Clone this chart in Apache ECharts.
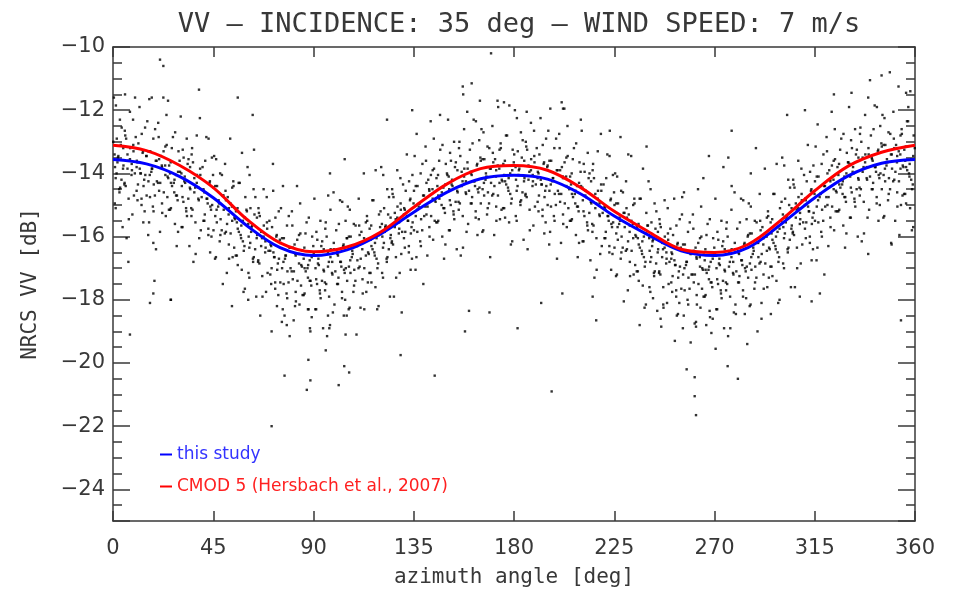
<!DOCTYPE html>
<html>
<head>
<meta charset="utf-8">
<script src="https://cdn.jsdelivr.net/npm/echarts@6/dist/echarts.min.js"></script>
<style>
html,body{margin:0;padding:0;background:#fff;}
#chart{width:962px;height:600px;}
</style>
</head>
<body>
<div id="chart"></div>
<script>
// ---- data ----
const titleText = 'VV – INCIDENCE: 35 deg – WIND SPEED: 7 m/s';
const xName = 'azimuth angle [deg]';
const yName = 'NRCS VV [dB]';
const azimuthTicks = [0, 45, 90, 135, 180, 225, 270, 315, 360];
const nrcsTicks = [-24, -22, -20, -18, -16, -14, -12, -10];

const curveAz = [0,15,30,45,60,75,90,105,120,135,150,165,180,195,210,225,240,255,270,285,300,315,330,345,360];
const thisStudy = [-13.56,-13.70,-14.10,-14.77,-15.65,-16.35,-16.60,-16.42,-15.92,-15.23,-14.59,-14.17,-14.06,-14.18,-14.65,-15.35,-15.94,-16.45,-16.60,-16.35,-15.60,-14.77,-14.08,-13.68,-13.56];
const cmod5 = [-13.11,-13.28,-13.75,-14.45,-15.45,-16.20,-16.48,-16.33,-15.86,-15.07,-14.33,-13.85,-13.75,-13.90,-14.45,-15.20,-15.83,-16.40,-16.50,-16.25,-15.47,-14.55,-13.77,-13.33,-13.11];

const obsPoints = [
[0.4,-11.6],[3.1,-12.3],[1.7,-12.9],[4.6,-13.2],[2.2,-13.5],[0.9,-13.8],[3.8,-14.2],[2.9,-14.6],[1.2,-15.1],[4.3,-15.7],
[7.6,-12.05],[5.3,-12.65],[9.1,-13.1],[6.5,-13.4],[8.4,-13.7],[9.8,-14.0],[5.7,-14.4],[7.0,-14.8],[8.7,-15.3],[6.1,-16.05],
[11.9,-11.9],[14.4,-12.55],[10.2,-12.85],[13.3,-13.35],[11.0,-13.65],[12.5,-14.0],[14.0,-14.2],[10.6,-14.55],[12.8,-15.0],[13.6,-15.55],
[15.4,-12.35],[18.1,-12.9],[16.7,-13.3],[19.6,-13.6],[17.2,-13.95],[15.9,-14.25],[18.8,-14.7],[17.9,-15.05],[16.2,-15.55],[19.3,-16.4],
[22.6,-11.6],[20.3,-12.4],[24.1,-13.1],[21.5,-13.45],[23.4,-13.75],[24.8,-14.15],[20.7,-14.55],[22.0,-14.95],[23.7,-15.35],[21.1,-15.85],
[26.9,-12.85],[29.4,-13.3],[25.2,-13.75],[28.3,-14.05],[26.0,-14.3],[27.5,-14.6],[29.0,-14.85],[25.6,-15.15],[27.8,-15.6],[28.6,-16.3],
[30.4,-12.2],[33.1,-12.9],[31.7,-13.5],[34.6,-13.8],[32.2,-14.1],[30.9,-14.4],[33.8,-14.8],[32.9,-15.2],[31.2,-15.7],[34.3,-16.3],
[37.6,-12.8],[35.3,-13.4],[39.1,-13.85],[36.5,-14.15],[38.4,-14.45],[39.8,-14.75],[35.7,-15.15],[37.0,-15.55],[38.7,-16.05],[36.1,-16.8],
[41.9,-12.85],[44.4,-13.5],[40.2,-13.8],[43.3,-14.3],[41.0,-14.6],[42.5,-14.95],[44.0,-15.15],[40.6,-15.5],[42.8,-15.95],[43.6,-16.5],
[45.4,-13.45],[48.1,-14.0],[46.7,-14.4],[49.6,-14.7],[47.2,-15.05],[45.9,-15.35],[48.8,-15.8],[47.9,-16.15],[46.2,-16.65],[49.3,-17.5],
[52.6,-12.9],[50.3,-13.7],[54.1,-14.4],[51.5,-14.75],[53.4,-15.05],[54.8,-15.45],[50.7,-15.85],[52.0,-16.25],[53.7,-16.65],[51.1,-17.15],
[56.9,-14.3],[59.4,-14.75],[55.2,-15.2],[58.3,-15.5],[56.0,-15.75],[57.5,-16.05],[59.0,-16.3],[55.6,-16.6],[57.8,-17.05],[58.6,-17.75],
[60.4,-13.8],[63.1,-14.5],[61.7,-15.1],[64.6,-15.4],[62.2,-15.7],[60.9,-16.0],[63.8,-16.4],[62.9,-16.8],[61.2,-17.3],[64.3,-17.9],
[67.6,-14.5],[65.3,-15.1],[69.1,-15.55],[66.5,-15.85],[68.4,-16.15],[69.8,-16.45],[65.7,-16.85],[67.0,-17.25],[68.7,-17.75],[66.1,-18.5],
[71.9,-14.55],[74.4,-15.2],[70.2,-15.5],[73.3,-16.0],[71.0,-16.3],[72.5,-16.65],[74.0,-16.85],[70.6,-17.2],[72.8,-17.65],[73.6,-18.2],
[75.4,-15.1],[78.1,-15.65],[76.7,-16.05],[79.6,-16.35],[77.2,-16.7],[75.9,-17.0],[78.8,-17.45],[77.9,-17.8],[76.2,-18.3],[79.3,-19.15],
[82.6,-14.4],[80.3,-15.2],[84.1,-15.9],[81.5,-16.25],[83.4,-16.55],[84.8,-16.95],[80.7,-17.35],[82.0,-17.75],[83.7,-18.15],[81.1,-18.65],
[86.9,-15.55],[89.4,-16.0],[85.2,-16.45],[88.3,-16.75],[86.0,-17.0],[87.5,-17.3],[89.0,-17.55],[85.6,-17.85],[87.8,-18.3],[88.6,-19.0],
[90.4,-14.8],[93.1,-15.5],[91.7,-16.1],[94.6,-16.4],[92.2,-16.7],[90.9,-17.0],[93.8,-17.4],[92.9,-17.8],[91.2,-18.3],[94.3,-18.9],
[97.6,-15.15],[95.3,-15.75],[99.1,-16.2],[96.5,-16.5],[98.4,-16.8],[99.8,-17.1],[95.7,-17.5],[97.0,-17.9],[98.7,-18.4],[96.1,-19.15],
[101.9,-14.85],[104.4,-15.5],[100.2,-15.8],[103.3,-16.3],[101.0,-16.6],[102.5,-16.95],[104.0,-17.15],[100.6,-17.5],[102.8,-17.95],[103.6,-18.5],
[105.4,-15.05],[108.1,-15.6],[106.7,-16.0],[109.6,-16.3],[107.2,-16.65],[105.9,-16.95],[108.8,-17.4],[107.9,-17.75],[106.2,-18.25],[109.3,-19.1],
[112.6,-14.0],[110.3,-14.8],[114.1,-15.5],[111.5,-15.85],[113.4,-16.15],[114.8,-16.55],[110.7,-16.95],[112.0,-17.35],[113.7,-17.75],[111.1,-18.25],
[116.9,-14.85],[119.4,-15.3],[115.2,-15.75],[118.3,-16.05],[116.0,-16.3],[117.5,-16.6],[119.0,-16.85],[115.6,-17.15],[117.8,-17.6],[118.6,-18.3],
[120.4,-13.8],[123.1,-14.5],[121.7,-15.1],[124.6,-15.4],[122.2,-15.7],[120.9,-16.0],[123.8,-16.4],[122.9,-16.8],[121.2,-17.3],[124.3,-17.9],
[127.6,-13.9],[125.3,-14.5],[129.1,-14.95],[126.5,-15.25],[128.4,-15.55],[129.8,-15.85],[125.7,-16.25],[127.0,-16.65],[128.7,-17.15],[126.1,-17.9],
[131.9,-13.4],[134.4,-14.05],[130.2,-14.35],[133.3,-14.85],[131.0,-15.15],[132.5,-15.5],[134.0,-15.7],[130.6,-16.05],[132.8,-16.5],[133.6,-17.05],
[135.4,-13.45],[138.1,-14.0],[136.7,-14.4],[139.6,-14.7],[137.2,-15.05],[135.9,-15.35],[138.8,-15.8],[137.9,-16.15],[136.2,-16.65],[139.3,-17.5],
[142.6,-12.35],[140.3,-13.15],[144.1,-13.85],[141.5,-14.2],[143.4,-14.5],[144.8,-14.9],[140.7,-15.3],[142.0,-15.7],[143.7,-16.1],[141.1,-16.6],
[146.9,-13.25],[149.4,-13.7],[145.2,-14.15],[148.3,-14.45],[146.0,-14.7],[147.5,-15.0],[149.0,-15.25],[145.6,-15.55],[147.8,-16.0],[148.6,-16.7],
[150.4,-12.3],[153.1,-13.0],[151.7,-13.6],[154.6,-13.9],[152.2,-14.2],[150.9,-14.5],[153.8,-14.9],[152.9,-15.3],[151.2,-15.8],[154.3,-16.4],
[157.6,-12.6],[155.3,-13.2],[159.1,-13.65],[156.5,-13.95],[158.4,-14.25],[159.8,-14.55],[155.7,-14.95],[157.0,-15.35],[158.7,-15.85],[156.1,-16.6],
[161.9,-12.3],[164.4,-12.95],[160.2,-13.25],[163.3,-13.75],[161.0,-14.05],[162.5,-14.4],[164.0,-14.6],[160.6,-14.95],[162.8,-15.4],[163.6,-15.95],
[165.4,-12.6],[168.1,-13.15],[166.7,-13.55],[169.6,-13.85],[167.2,-14.2],[165.9,-14.5],[168.8,-14.95],[167.9,-15.3],[166.2,-15.8],[169.3,-16.65],
[172.6,-11.7],[170.3,-12.5],[174.1,-13.2],[171.5,-13.55],[173.4,-13.85],[174.8,-14.25],[170.7,-14.65],[172.0,-15.05],[173.7,-15.45],[171.1,-15.95],
[176.9,-12.8],[179.4,-13.25],[175.2,-13.7],[178.3,-14.0],[176.0,-14.25],[177.5,-14.55],[179.0,-14.8],[175.6,-15.1],[177.8,-15.55],[178.6,-16.25],
[180.4,-12.0],[183.1,-12.7],[181.7,-13.3],[184.6,-13.6],[182.2,-13.9],[180.9,-14.2],[183.8,-14.6],[182.9,-15.0],[181.2,-15.5],[184.3,-16.1],
[187.6,-12.4],[185.3,-13.0],[189.1,-13.45],[186.5,-13.75],[188.4,-14.05],[189.8,-14.35],[185.7,-14.75],[187.0,-15.15],[188.7,-15.65],[186.1,-16.4],
[191.9,-12.25],[194.4,-12.9],[190.2,-13.2],[193.3,-13.7],[191.0,-14.0],[192.5,-14.35],[194.0,-14.55],[190.6,-14.9],[192.8,-15.35],[193.6,-15.9],
[195.4,-12.65],[198.1,-13.2],[196.7,-13.6],[199.6,-13.9],[197.2,-14.25],[195.9,-14.55],[198.8,-15.0],[197.9,-15.35],[196.2,-15.85],[199.3,-16.7],
[202.6,-11.95],[200.3,-12.75],[204.1,-13.45],[201.5,-13.8],[203.4,-14.1],[204.8,-14.5],[200.7,-14.9],[202.0,-15.3],[203.7,-15.7],[201.1,-16.2],
[206.9,-13.2],[209.4,-13.65],[205.2,-14.1],[208.3,-14.4],[206.0,-14.65],[207.5,-14.95],[209.0,-15.2],[205.6,-15.5],[207.8,-15.95],[208.6,-16.65],
[210.4,-12.65],[213.1,-13.35],[211.7,-13.95],[214.6,-14.25],[212.2,-14.55],[210.9,-14.85],[213.8,-15.25],[212.9,-15.65],[211.2,-16.15],[214.3,-16.75],
[217.6,-13.3],[215.3,-13.9],[219.1,-14.35],[216.5,-14.65],[218.4,-14.95],[219.8,-15.25],[215.7,-15.65],[217.0,-16.05],[218.7,-16.55],[216.1,-17.3],
[221.9,-13.4],[224.4,-14.05],[220.2,-14.35],[223.3,-14.85],[221.0,-15.15],[222.5,-15.5],[224.0,-15.7],[220.6,-16.05],[222.8,-16.5],[223.6,-17.05],
[225.4,-14.0],[228.1,-14.55],[226.7,-14.95],[229.6,-15.25],[227.2,-15.6],[225.9,-15.9],[228.8,-16.35],[227.9,-16.7],[226.2,-17.2],[229.3,-18.05],
[232.6,-13.45],[230.3,-14.25],[234.1,-14.95],[231.5,-15.3],[233.4,-15.6],[234.8,-16.0],[230.7,-16.4],[232.0,-16.8],[233.7,-17.2],[231.1,-17.7],
[236.9,-14.8],[239.4,-15.25],[235.2,-15.7],[238.3,-16.0],[236.0,-16.25],[237.5,-16.55],[239.0,-16.8],[235.6,-17.1],[237.8,-17.55],[238.6,-18.25],
[240.4,-14.25],[243.1,-14.95],[241.7,-15.55],[244.6,-15.85],[242.2,-16.15],[240.9,-16.45],[243.8,-16.85],[242.9,-17.25],[241.2,-17.75],[244.3,-18.35],
[247.6,-14.85],[245.3,-15.45],[249.1,-15.9],[246.5,-16.2],[248.4,-16.5],[249.8,-16.8],[245.7,-17.2],[247.0,-17.6],[248.7,-18.1],[246.1,-18.85],
[251.9,-14.8],[254.4,-15.45],[250.2,-15.75],[253.3,-16.25],[251.0,-16.55],[252.5,-16.9],[254.0,-17.1],[250.6,-17.45],[252.8,-17.9],[253.6,-18.45],
[255.4,-15.3],[258.1,-15.85],[256.7,-16.25],[259.6,-16.55],[257.2,-16.9],[255.9,-17.2],[258.8,-17.65],[257.9,-18.0],[256.2,-18.5],[259.3,-19.35],
[262.6,-14.5],[260.3,-15.3],[264.1,-16.0],[261.5,-16.35],[263.4,-16.65],[264.8,-17.05],[260.7,-17.45],[262.0,-17.85],[263.7,-18.25],[261.1,-18.75],
[266.9,-15.6],[269.4,-16.05],[265.2,-16.5],[268.3,-16.8],[266.0,-17.05],[267.5,-17.35],[269.0,-17.6],[265.6,-17.9],[267.8,-18.35],[268.6,-19.05],
[270.4,-14.8],[273.1,-15.5],[271.7,-16.1],[274.6,-16.4],[272.2,-16.7],[270.9,-17.0],[273.8,-17.4],[272.9,-17.8],[271.2,-18.3],[274.3,-18.9],
[277.6,-15.15],[275.3,-15.75],[279.1,-16.2],[276.5,-16.5],[278.4,-16.8],[279.8,-17.1],[275.7,-17.5],[277.0,-17.9],[278.7,-18.4],[276.1,-19.15],
[281.9,-14.8],[284.4,-15.45],[280.2,-15.75],[283.3,-16.25],[281.0,-16.55],[282.5,-16.9],[284.0,-17.1],[280.6,-17.45],[282.8,-17.9],[283.6,-18.45],
[285.4,-14.95],[288.1,-15.5],[286.7,-15.9],[289.6,-16.2],[287.2,-16.55],[285.9,-16.85],[288.8,-17.3],[287.9,-17.65],[286.2,-18.15],[289.3,-19.0],
[292.6,-13.85],[290.3,-14.65],[294.1,-15.35],[291.5,-15.7],[293.4,-16.0],[294.8,-16.4],[290.7,-16.8],[292.0,-17.2],[293.7,-17.6],[291.1,-18.1],
[296.9,-14.65],[299.4,-15.1],[295.2,-15.55],[298.3,-15.85],[296.0,-16.1],[297.5,-16.4],[299.0,-16.65],[295.6,-16.95],[297.8,-17.4],[298.6,-18.1],
[300.4,-13.5],[303.1,-14.2],[301.7,-14.8],[304.6,-15.1],[302.2,-15.4],[300.9,-15.7],[303.8,-16.1],[302.9,-16.5],[301.2,-17.0],[304.3,-17.6],
[307.6,-13.6],[305.3,-14.2],[309.1,-14.65],[306.5,-14.95],[308.4,-15.25],[309.8,-15.55],[305.7,-15.95],[307.0,-16.35],[308.7,-16.85],[306.1,-17.6],
[311.9,-13.1],[314.4,-13.75],[310.2,-14.05],[313.3,-14.55],[311.0,-14.85],[312.5,-15.2],[314.0,-15.4],[310.6,-15.75],[312.8,-16.2],[313.6,-16.75],
[315.4,-13.15],[318.1,-13.7],[316.7,-14.1],[319.6,-14.4],[317.2,-14.75],[315.9,-15.05],[318.8,-15.5],[317.9,-15.85],[316.2,-16.35],[319.3,-17.2],
[322.6,-12.05],[320.3,-12.85],[324.1,-13.55],[321.5,-13.9],[323.4,-14.2],[324.8,-14.6],[320.7,-15.0],[322.0,-15.4],[323.7,-15.8],[321.1,-16.3],
[326.9,-12.9],[329.4,-13.35],[325.2,-13.8],[328.3,-14.1],[326.0,-14.35],[327.5,-14.65],[329.0,-14.9],[325.6,-15.2],[327.8,-15.65],[328.6,-16.35],
[330.4,-11.9],[333.1,-12.6],[331.7,-13.2],[334.6,-13.5],[332.2,-13.8],[330.9,-14.1],[333.8,-14.5],[332.9,-14.9],[331.2,-15.4],[334.3,-16.0],
[337.6,-12.15],[335.3,-12.75],[339.1,-13.2],[336.5,-13.5],[338.4,-13.8],[339.8,-14.1],[335.7,-14.5],[337.0,-14.9],[338.7,-15.4],[336.1,-16.15],
[341.9,-11.85],[344.4,-12.5],[340.2,-12.8],[343.3,-13.3],[341.0,-13.6],[342.5,-13.95],[344.0,-14.15],[340.6,-14.5],[342.8,-14.95],[343.6,-15.5],
[345.4,-12.15],[348.1,-12.7],[346.7,-13.1],[349.6,-13.4],[347.2,-13.75],[345.9,-14.05],[348.8,-14.5],[347.9,-14.85],[346.2,-15.35],[349.3,-16.2],
[352.6,-11.25],[350.3,-12.05],[354.1,-12.75],[351.5,-13.1],[353.4,-13.4],[354.8,-13.8],[350.7,-14.2],[352.0,-14.6],[353.7,-15.0],[351.1,-15.5],
[356.9,-12.35],[359.4,-12.8],[355.2,-13.25],[358.3,-13.55],[356.0,-13.8],[357.5,-14.1],[359.0,-14.35],[355.6,-14.65],[357.8,-15.1],[358.6,-15.8]
];

// second sweep of the cloud
const obsPoints2 = [
[1.3,-11.85],[3.9,-12.55],[0.1,-13.0],[2.4,-13.45],[4.7,-13.75],[1.6,-14.0],[3.2,-14.45],[0.8,-14.95],
[9.0,-12.3],[5.5,-12.8],[7.7,-13.2],[6.9,-13.6],[8.5,-13.9],[5.2,-14.3],[9.4,-14.7],[7.1,-15.45],
[12.9,-12.75],[11.4,-13.05],[14.9,-13.45],[10.6,-13.8],[12.3,-14.0],[13.7,-14.4],[11.0,-14.85],[14.2,-15.2],
[16.3,-11.65],[18.9,-12.6],[15.1,-13.45],[17.4,-13.85],[19.7,-14.25],[16.6,-14.75],[18.2,-15.2],[15.8,-15.95],
[24.0,-12.15],[20.5,-12.85],[22.7,-13.3],[21.9,-13.75],[23.5,-14.05],[20.2,-14.3],[24.4,-14.75],[22.1,-15.25],
[27.9,-12.7],[26.4,-13.2],[29.9,-13.6],[25.6,-14.0],[27.3,-14.3],[28.7,-14.7],[26.0,-15.1],[29.2,-15.85],
[31.3,-13.25],[33.9,-13.55],[30.1,-13.95],[32.4,-14.3],[34.7,-14.5],[31.6,-14.9],[33.2,-15.35],[30.8,-15.7],
[39.0,-12.25],[35.5,-13.2],[37.7,-14.05],[36.9,-14.45],[38.5,-14.85],[35.2,-15.35],[39.4,-15.8],[37.1,-16.55],
[42.9,-12.9],[41.4,-13.6],[44.9,-14.05],[40.6,-14.5],[42.3,-14.8],[43.7,-15.05],[41.0,-15.5],[44.2,-16.0],
[46.3,-13.55],[48.9,-14.05],[45.1,-14.45],[47.4,-14.85],[49.7,-15.15],[46.6,-15.55],[48.2,-15.95],[45.8,-16.7],
[54.0,-14.25],[50.5,-14.55],[52.7,-14.95],[51.9,-15.3],[53.5,-15.5],[50.2,-15.9],[54.4,-16.35],[52.1,-16.7],
[57.9,-13.35],[56.4,-14.3],[59.9,-15.15],[55.6,-15.55],[57.3,-15.95],[58.7,-16.45],[56.0,-16.9],[59.2,-17.65],
[61.3,-14.05],[63.9,-14.75],[60.1,-15.2],[62.4,-15.65],[64.7,-15.95],[61.6,-16.2],[63.2,-16.65],[60.8,-17.15],
[69.0,-14.75],[65.5,-15.25],[67.7,-15.65],[66.9,-16.05],[68.5,-16.35],[65.2,-16.75],[69.4,-17.15],[67.1,-17.9],
[72.9,-15.4],[71.4,-15.7],[74.9,-16.1],[70.6,-16.45],[72.3,-16.65],[73.7,-17.05],[71.0,-17.5],[74.2,-17.85],
[76.3,-14.4],[78.9,-15.35],[75.1,-16.2],[77.4,-16.6],[79.7,-17.0],[76.6,-17.5],[78.2,-17.95],[75.8,-18.7],
[84.0,-14.95],[80.5,-15.65],[82.7,-16.1],[81.9,-16.55],[83.5,-16.85],[80.2,-17.1],[84.4,-17.55],[82.1,-18.05],
[87.9,-15.4],[86.4,-15.9],[89.9,-16.3],[85.6,-16.7],[87.3,-17.0],[88.7,-17.4],[86.0,-17.8],[89.2,-18.55],
[91.3,-15.85],[93.9,-16.15],[90.1,-16.55],[92.4,-16.9],[94.7,-17.1],[91.6,-17.5],[93.2,-17.95],[90.8,-18.3],
[99.0,-14.6],[95.5,-15.55],[97.7,-16.4],[96.9,-16.8],[98.5,-17.2],[95.2,-17.7],[99.4,-18.15],[97.1,-18.9],
[102.9,-14.9],[101.4,-15.6],[104.9,-16.05],[100.6,-16.5],[102.3,-16.8],[103.7,-17.05],[101.0,-17.5],[104.2,-18.0],
[106.3,-15.15],[108.9,-15.65],[105.1,-16.05],[107.4,-16.45],[109.7,-16.75],[106.6,-17.15],[108.2,-17.55],[105.8,-18.3],
[114.0,-15.35],[110.5,-15.65],[112.7,-16.05],[111.9,-16.4],[113.5,-16.6],[110.2,-17.0],[114.4,-17.45],[112.1,-17.8],
[117.9,-13.9],[116.4,-14.85],[119.9,-15.7],[115.6,-16.1],[117.3,-16.5],[118.7,-17.0],[116.0,-17.45],[119.2,-18.2],
[121.3,-14.05],[123.9,-14.75],[120.1,-15.2],[122.4,-15.65],[124.7,-15.95],[121.6,-16.2],[123.2,-16.65],[120.8,-17.15],
[129.0,-14.15],[125.5,-14.65],[127.7,-15.05],[126.9,-15.45],[128.5,-15.75],[125.2,-16.15],[129.4,-16.55],[127.1,-17.3],
[132.9,-14.25],[131.4,-14.55],[134.9,-14.95],[130.6,-15.3],[132.3,-15.5],[133.7,-15.9],[131.0,-16.35],[134.2,-16.7],
[136.3,-12.75],[138.9,-13.7],[135.1,-14.55],[137.4,-14.95],[139.7,-15.35],[136.6,-15.85],[138.2,-16.3],[135.8,-17.05],
[144.0,-12.9],[140.5,-13.6],[142.7,-14.05],[141.9,-14.5],[143.5,-14.8],[140.2,-15.05],[144.4,-15.5],[142.1,-16.0],
[147.9,-13.1],[146.4,-13.6],[149.9,-14.0],[145.6,-14.4],[147.3,-14.7],[148.7,-15.1],[146.0,-15.5],[149.2,-16.25],
[151.3,-13.35],[153.9,-13.65],[150.1,-14.05],[152.4,-14.4],[154.7,-14.6],[151.6,-15.0],[153.2,-15.45],[150.8,-15.8],
[159.0,-12.05],[155.5,-13.0],[157.7,-13.85],[156.9,-14.25],[158.5,-14.65],[155.2,-15.15],[159.4,-15.6],[157.1,-16.35],
[162.9,-12.35],[161.4,-13.05],[164.9,-13.5],[160.6,-13.95],[162.3,-14.25],[163.7,-14.5],[161.0,-14.95],[164.2,-15.45],
[166.3,-12.7],[168.9,-13.2],[165.1,-13.6],[167.4,-14.0],[169.7,-14.3],[166.6,-14.7],[168.2,-15.1],[165.8,-15.85],
[174.0,-13.05],[170.5,-13.35],[172.7,-13.75],[171.9,-14.1],[173.5,-14.3],[170.2,-14.7],[174.4,-15.15],[172.1,-15.5],
[177.9,-11.85],[176.4,-12.8],[179.9,-13.65],[175.6,-14.05],[177.3,-14.45],[178.7,-14.95],[176.0,-15.4],[179.2,-16.15],
[181.3,-12.25],[183.9,-12.95],[180.1,-13.4],[182.4,-13.85],[184.7,-14.15],[181.6,-14.4],[183.2,-14.85],[180.8,-15.35],
[189.0,-12.65],[185.5,-13.15],[187.7,-13.55],[186.9,-13.95],[188.5,-14.25],[185.2,-14.65],[189.4,-15.05],[187.1,-15.8],
[192.9,-13.1],[191.4,-13.4],[194.9,-13.8],[190.6,-14.15],[192.3,-14.35],[193.7,-14.75],[191.0,-15.2],[194.2,-15.55],
[196.3,-11.95],[198.9,-12.9],[195.1,-13.75],[197.4,-14.15],[199.7,-14.55],[196.6,-15.05],[198.2,-15.5],[195.8,-16.25],
[204.0,-12.5],[200.5,-13.2],[202.7,-13.65],[201.9,-14.1],[203.5,-14.4],[200.2,-14.65],[204.4,-15.1],[202.1,-15.6],
[207.9,-13.05],[206.4,-13.55],[209.9,-13.95],[205.6,-14.35],[207.3,-14.65],[208.7,-15.05],[206.0,-15.45],[209.2,-16.2],
[211.3,-13.7],[213.9,-14.0],[210.1,-14.4],[212.4,-14.75],[214.7,-14.95],[211.6,-15.35],[213.2,-15.8],[210.8,-16.15],
[219.0,-12.75],[215.5,-13.7],[217.7,-14.55],[216.9,-14.95],[218.5,-15.35],[215.2,-15.85],[219.4,-16.3],[217.1,-17.05],
[222.9,-13.45],[221.4,-14.15],[224.9,-14.6],[220.6,-15.05],[222.3,-15.35],[223.7,-15.6],[221.0,-16.05],[224.2,-16.55],
[226.3,-14.1],[228.9,-14.6],[225.1,-15.0],[227.4,-15.4],[229.7,-15.7],[226.6,-16.1],[228.2,-16.5],[225.8,-17.25],
[234.0,-14.8],[230.5,-15.1],[232.7,-15.5],[231.9,-15.85],[233.5,-16.05],[230.2,-16.45],[234.4,-16.9],[232.1,-17.25],
[237.9,-13.85],[236.4,-14.8],[239.9,-15.65],[235.6,-16.05],[237.3,-16.45],[238.7,-16.95],[236.0,-17.4],[239.2,-18.15],
[241.3,-14.5],[243.9,-15.2],[240.1,-15.65],[242.4,-16.1],[244.7,-16.4],[241.6,-16.65],[243.2,-17.1],[240.8,-17.6],
[249.0,-15.1],[245.5,-15.6],[247.7,-16.0],[246.9,-16.4],[248.5,-16.7],[245.2,-17.1],[249.4,-17.5],[247.1,-18.25],
[252.9,-15.65],[251.4,-15.95],[254.9,-16.35],[250.6,-16.7],[252.3,-16.9],[253.7,-17.3],[251.0,-17.75],[254.2,-18.1],
[256.3,-14.6],[258.9,-15.55],[255.1,-16.4],[257.4,-16.8],[259.7,-17.2],[256.6,-17.7],[258.2,-18.15],[255.8,-18.9],
[264.0,-15.05],[260.5,-15.75],[262.7,-16.2],[261.9,-16.65],[263.5,-16.95],[260.2,-17.2],[264.4,-17.65],[262.1,-18.15],
[267.9,-15.45],[266.4,-15.95],[269.9,-16.35],[265.6,-16.75],[267.3,-17.05],[268.7,-17.45],[266.0,-17.85],[269.2,-18.6],
[271.3,-15.85],[273.9,-16.15],[270.1,-16.55],[272.4,-16.9],[274.7,-17.1],[271.6,-17.5],[273.2,-17.95],[270.8,-18.3],
[279.0,-14.6],[275.5,-15.55],[277.7,-16.4],[276.9,-16.8],[278.5,-17.2],[275.2,-17.7],[279.4,-18.15],[277.1,-18.9],
[282.9,-14.85],[281.4,-15.55],[284.9,-16.0],[280.6,-16.45],[282.3,-16.75],[283.7,-17.0],[281.0,-17.45],[284.2,-17.95],
[286.3,-15.05],[288.9,-15.55],[285.1,-15.95],[287.4,-16.35],[289.7,-16.65],[286.6,-17.05],[288.2,-17.45],[285.8,-18.2],
[294.0,-15.2],[290.5,-15.5],[292.7,-15.9],[291.9,-16.25],[293.5,-16.45],[290.2,-16.85],[294.4,-17.3],[292.1,-17.65],
[297.9,-13.7],[296.4,-14.65],[299.9,-15.5],[295.6,-15.9],[297.3,-16.3],[298.7,-16.8],[296.0,-17.25],[299.2,-18.0],
[301.3,-13.75],[303.9,-14.45],[300.1,-14.9],[302.4,-15.35],[304.7,-15.65],[301.6,-15.9],[303.2,-16.35],[300.8,-16.85],
[309.0,-13.85],[305.5,-14.35],[307.7,-14.75],[306.9,-15.15],[308.5,-15.45],[305.2,-15.85],[309.4,-16.25],[307.1,-17.0],
[312.9,-13.95],[311.4,-14.25],[314.9,-14.65],[310.6,-15.0],[312.3,-15.2],[313.7,-15.6],[311.0,-16.05],[314.2,-16.4],
[316.3,-12.45],[318.9,-13.4],[315.1,-14.25],[317.4,-14.65],[319.7,-15.05],[316.6,-15.55],[318.2,-16.0],[315.8,-16.75],
[324.0,-12.6],[320.5,-13.3],[322.7,-13.75],[321.9,-14.2],[323.5,-14.5],[320.2,-14.75],[324.4,-15.2],[322.1,-15.7],
[327.9,-12.75],[326.4,-13.25],[329.9,-13.65],[325.6,-14.05],[327.3,-14.35],[328.7,-14.75],[326.0,-15.15],[329.2,-15.9],
[331.3,-12.95],[333.9,-13.25],[330.1,-13.65],[332.4,-14.0],[334.7,-14.2],[331.6,-14.6],[333.2,-15.05],[330.8,-15.4],
[339.0,-11.6],[335.5,-12.55],[337.7,-13.4],[336.9,-13.8],[338.5,-14.2],[335.2,-14.7],[339.4,-15.15],[337.1,-15.9],
[342.9,-11.9],[341.4,-12.6],[344.9,-13.05],[340.6,-13.5],[342.3,-13.8],[343.7,-14.05],[341.0,-14.5],[344.2,-15.0],
[346.3,-12.25],[348.9,-12.75],[345.1,-13.15],[347.4,-13.55],[349.7,-13.85],[346.6,-14.25],[348.2,-14.65],[345.8,-15.4],
[354.0,-12.6],[350.5,-12.9],[352.7,-13.3],[351.9,-13.65],[353.5,-13.85],[350.2,-14.25],[354.4,-14.7],[352.1,-15.05],
[357.9,-11.4],[356.4,-12.35],[359.9,-13.2],[355.6,-13.6],[357.3,-14.0],[358.7,-14.5],[356.0,-14.95],[359.2,-15.7]
];

// dense core of the cloud
const obsCore = [
[3.5,-13.1],[0.7,-13.4],[2.0,-13.65],[4.5,-13.85],[1.2,-14.15],[2.8,-14.5],
[5.9,-12.9],[9.2,-13.3],[7.6,-13.55],[6.5,-13.85],[8.3,-14.05],[5.1,-14.35],
[13.5,-13.3],[10.7,-13.6],[12.0,-13.85],[14.5,-14.05],[11.2,-14.35],[12.8,-14.8],
[15.9,-13.3],[19.2,-13.6],[17.6,-13.85],[16.5,-14.05],[18.3,-14.35],[15.1,-14.7],
[23.5,-13.15],[20.7,-13.55],[22.0,-13.8],[24.5,-14.1],[21.2,-14.3],[22.8,-14.6],
[25.9,-13.65],[29.2,-13.95],[27.6,-14.2],[26.5,-14.4],[28.3,-14.7],[25.1,-15.15],
[33.5,-13.7],[30.7,-14.0],[32.0,-14.25],[34.5,-14.45],[31.2,-14.75],[32.8,-15.1],
[35.9,-13.65],[39.2,-14.05],[37.6,-14.3],[36.5,-14.6],[38.3,-14.8],[35.1,-15.1],
[43.5,-14.25],[40.7,-14.55],[42.0,-14.8],[44.5,-15.0],[41.2,-15.3],[42.8,-15.75],
[45.9,-14.4],[49.2,-14.7],[47.6,-14.95],[46.5,-15.15],[48.3,-15.45],[45.1,-15.8],
[53.5,-14.45],[50.7,-14.85],[52.0,-15.1],[54.5,-15.4],[51.2,-15.6],[52.8,-15.9],
[55.9,-15.1],[59.2,-15.4],[57.6,-15.65],[56.5,-15.85],[58.3,-16.15],[55.1,-16.6],
[63.5,-15.3],[60.7,-15.6],[62.0,-15.85],[64.5,-16.05],[61.2,-16.35],[62.8,-16.7],
[65.9,-15.35],[69.2,-15.75],[67.6,-16.0],[66.5,-16.3],[68.3,-16.5],[65.1,-16.8],
[73.5,-15.95],[70.7,-16.25],[72.0,-16.5],[74.5,-16.7],[71.2,-17.0],[72.8,-17.45],
[75.9,-16.05],[79.2,-16.35],[77.6,-16.6],[76.5,-16.8],[78.3,-17.1],[75.1,-17.45],
[83.5,-15.95],[80.7,-16.35],[82.0,-16.6],[84.5,-16.9],[81.2,-17.1],[82.8,-17.4],
[85.9,-16.35],[89.2,-16.65],[87.6,-16.9],[86.5,-17.1],[88.3,-17.4],[85.1,-17.85],
[93.5,-16.3],[90.7,-16.6],[92.0,-16.85],[94.5,-17.05],[91.2,-17.35],[92.8,-17.7],
[95.9,-16.0],[99.2,-16.4],[97.6,-16.65],[96.5,-16.95],[98.3,-17.15],[95.1,-17.45],
[103.5,-16.25],[100.7,-16.55],[102.0,-16.8],[104.5,-17.0],[101.2,-17.3],[102.8,-17.75],
[105.9,-16.0],[109.2,-16.3],[107.6,-16.55],[106.5,-16.75],[108.3,-17.05],[105.1,-17.4],
[113.5,-15.55],[110.7,-15.95],[112.0,-16.2],[114.5,-16.5],[111.2,-16.7],[112.8,-17.0],
[115.9,-15.65],[119.2,-15.95],[117.6,-16.2],[116.5,-16.4],[118.3,-16.7],[115.1,-17.15],
[123.5,-15.3],[120.7,-15.6],[122.0,-15.85],[124.5,-16.05],[121.2,-16.35],[122.8,-16.7],
[125.9,-14.75],[129.2,-15.15],[127.6,-15.4],[126.5,-15.7],[128.3,-15.9],[125.1,-16.2],
[133.5,-14.8],[130.7,-15.1],[132.0,-15.35],[134.5,-15.55],[131.2,-15.85],[132.8,-16.3],
[135.9,-14.4],[139.2,-14.7],[137.6,-14.95],[136.5,-15.15],[138.3,-15.45],[135.1,-15.8],
[143.5,-13.9],[140.7,-14.3],[142.0,-14.55],[144.5,-14.85],[141.2,-15.05],[142.8,-15.35],
[145.9,-14.05],[149.2,-14.35],[147.6,-14.6],[146.5,-14.8],[148.3,-15.1],[145.1,-15.55],
[153.5,-13.8],[150.7,-14.1],[152.0,-14.35],[154.5,-14.55],[151.2,-14.85],[152.8,-15.2],
[155.9,-13.45],[159.2,-13.85],[157.6,-14.1],[156.5,-14.4],[158.3,-14.6],[155.1,-14.9],
[163.5,-13.7],[160.7,-14.0],[162.0,-14.25],[164.5,-14.45],[161.2,-14.75],[162.8,-15.2],
[165.9,-13.55],[169.2,-13.85],[167.6,-14.1],[166.5,-14.3],[168.3,-14.6],[165.1,-14.95],
[173.5,-13.25],[170.7,-13.65],[172.0,-13.9],[174.5,-14.2],[171.2,-14.4],[172.8,-14.7],
[175.9,-13.6],[179.2,-13.9],[177.6,-14.15],[176.5,-14.35],[178.3,-14.65],[175.1,-15.1],
[183.5,-13.5],[180.7,-13.8],[182.0,-14.05],[184.5,-14.25],[181.2,-14.55],[182.8,-14.9],
[185.9,-13.25],[189.2,-13.65],[187.6,-13.9],[186.5,-14.2],[188.3,-14.4],[185.1,-14.7],
[193.5,-13.65],[190.7,-13.95],[192.0,-14.2],[194.5,-14.4],[191.2,-14.7],[192.8,-15.15],
[195.9,-13.6],[199.2,-13.9],[197.6,-14.15],[196.5,-14.35],[198.3,-14.65],[195.1,-15.0],
[203.5,-13.5],[200.7,-13.9],[202.0,-14.15],[204.5,-14.45],[201.2,-14.65],[202.8,-14.95],
[205.9,-14.0],[209.2,-14.3],[207.6,-14.55],[206.5,-14.75],[208.3,-15.05],[205.1,-15.5],
[213.5,-14.15],[210.7,-14.45],[212.0,-14.7],[214.5,-14.9],[211.2,-15.2],[212.8,-15.55],
[215.9,-14.15],[219.2,-14.55],[217.6,-14.8],[216.5,-15.1],[218.3,-15.3],[215.1,-15.6],
[223.5,-14.8],[220.7,-15.1],[222.0,-15.35],[224.5,-15.55],[221.2,-15.85],[222.8,-16.3],
[225.9,-14.95],[229.2,-15.25],[227.6,-15.5],[226.5,-15.7],[228.3,-16.0],[225.1,-16.35],
[233.5,-15.0],[230.7,-15.4],[232.0,-15.65],[234.5,-15.95],[231.2,-16.15],[232.8,-16.45],
[235.9,-15.6],[239.2,-15.9],[237.6,-16.15],[236.5,-16.35],[238.3,-16.65],[235.1,-17.1],
[243.5,-15.75],[240.7,-16.05],[242.0,-16.3],[244.5,-16.5],[241.2,-16.8],[242.8,-17.15],
[245.9,-15.7],[249.2,-16.1],[247.6,-16.35],[246.5,-16.65],[248.3,-16.85],[245.1,-17.15],
[253.5,-16.2],[250.7,-16.5],[252.0,-16.75],[254.5,-16.95],[251.2,-17.25],[252.8,-17.7],
[255.9,-16.25],[259.2,-16.55],[257.6,-16.8],[256.5,-17.0],[258.3,-17.3],[255.1,-17.65],
[263.5,-16.05],[260.7,-16.45],[262.0,-16.7],[264.5,-17.0],[261.2,-17.2],[262.8,-17.5],
[265.9,-16.4],[269.2,-16.7],[267.6,-16.95],[266.5,-17.15],[268.3,-17.45],[265.1,-17.9],
[273.5,-16.3],[270.7,-16.6],[272.0,-16.85],[274.5,-17.05],[271.2,-17.35],[272.8,-17.7],
[275.9,-16.0],[279.2,-16.4],[277.6,-16.65],[276.5,-16.95],[278.3,-17.15],[275.1,-17.45],
[283.5,-16.2],[280.7,-16.5],[282.0,-16.75],[284.5,-16.95],[281.2,-17.25],[282.8,-17.7],
[285.9,-15.9],[289.2,-16.2],[287.6,-16.45],[286.5,-16.65],[288.3,-16.95],[285.1,-17.3],
[293.5,-15.4],[290.7,-15.8],[292.0,-16.05],[294.5,-16.35],[291.2,-16.55],[292.8,-16.85],
[295.9,-15.45],[299.2,-15.75],[297.6,-16.0],[296.5,-16.2],[298.3,-16.5],[295.1,-16.95],
[303.5,-15.0],[300.7,-15.3],[302.0,-15.55],[304.5,-15.75],[301.2,-16.05],[302.8,-16.4],
[305.9,-14.45],[309.2,-14.85],[307.6,-15.1],[306.5,-15.4],[308.3,-15.6],[305.1,-15.9],
[313.5,-14.5],[310.7,-14.8],[312.0,-15.05],[314.5,-15.25],[311.2,-15.55],[312.8,-16.0],
[315.9,-14.1],[319.2,-14.4],[317.6,-14.65],[316.5,-14.85],[318.3,-15.15],[315.1,-15.5],
[323.5,-13.6],[320.7,-14.0],[322.0,-14.25],[324.5,-14.55],[321.2,-14.75],[322.8,-15.05],
[325.9,-13.7],[329.2,-14.0],[327.6,-14.25],[326.5,-14.45],[328.3,-14.75],[325.1,-15.2],
[333.5,-13.4],[330.7,-13.7],[332.0,-13.95],[334.5,-14.15],[331.2,-14.45],[332.8,-14.8],
[335.9,-13.0],[339.2,-13.4],[337.6,-13.65],[336.5,-13.95],[338.3,-14.15],[335.1,-14.45],
[343.5,-13.25],[340.7,-13.55],[342.0,-13.8],[344.5,-14.0],[341.2,-14.3],[342.8,-14.75],
[345.9,-13.1],[349.2,-13.4],[347.6,-13.65],[346.5,-13.85],[348.3,-14.15],[345.1,-14.5],
[353.5,-12.8],[350.7,-13.2],[352.0,-13.45],[354.5,-13.75],[351.2,-13.95],[352.8,-14.25],
[355.9,-13.15],[359.2,-13.45],[357.6,-13.7],[356.5,-13.9],[358.3,-14.2],[355.1,-14.65]
];

const obsOutliers = [
[7.6,-19.1],[16.6,-18.1],[26,-18],[18.1,-17.8],[53.4,-18.2],[60.7,-18],[71.2,-19],[77,-18.5],[78,-18.8],[88.4,-18.9],[96.5,-18.5],[97.4,-18.8],[104.9,-18.5],[104.4,-19.1],[95.5,-19.6],[87.7,-19.9],[77,-20.4],[103.8,-20.1],[106,-20.3],[88.6,-20.55],[101.3,-20.7],[87,-20.85],[71.2,-22],[112.8,-18.3],[81.7,-18.2],[87.5,-18.3],
[129.6,-18.4],[159.8,-18.35],[169,-18.4],[158,-19],[181.6,-18.9],[129.1,-19.75],[144.4,-20.4],[196.9,-20.9],[192.2,-18.1],[201.7,-17.8],[215.3,-17.9],[216.9,-18.65],[236.4,-18.8],[245.8,-18.6],[247,-18.15],[242.4,-17.95],
[253.1,-18.5],[261.7,-18.7],[261.7,-18.85],[266.3,-18.8],[268,-18.55],[252.2,-19.3],[270.5,-19.55],[284.7,-19.4],[279.6,-18.45],[291.1,-18.6],[295.3,-18.45],[257.5,-20.2],[261.1,-20.45],[275.9,-20.1],[280.5,-20.5],[261.1,-21.05],[261.7,-21.65],[353.7,-18.65],[308.3,-17.9],[313.6,-18.05],[317.3,-17.8],
[21.1,-10.4],[22.6,-10.6],[38.6,-11.35],[56,-11.6],[62.7,-12.15],[63.3,-13.25],[71.8,-13.7],[104,-13.55],[123,-12.3],[97.4,-14],[96.6,-14.7],[169.7,-10.2],[161,-11.15],[157,-11.25],[157.2,-11.5],[164.7,-11.7],[134.3,-12],[146.8,-12.15],[172.9,-11.9],[175.5,-11.75],[201.4,-11.75],[202,-11.95],[185.7,-12.05],[223,-12.65],[227.8,-12.85],[239.5,-13.15],[231.3,-13.4],[210,-12.3],
[348.7,-10.8],[345,-10.9],[339.8,-11.05],[331.5,-11.45],[323.6,-11.5],[310.6,-12],[302.6,-12.15],[277.7,-12.65],[288.6,-13.2],[267.5,-13.45],[276.2,-13.5],[274,-13.8],[286.3,-14],[265,-14.15],[255.5,-14.75],[277.7,-14.4],[357,-11.9],[356,-11.45],[339,-16.55],[349.5,-16.25],[353,-15.95],
[5.4,-11.5],[9.9,-11.6],[17.4,-11.6],[24.7,-11.7],[6.9,-16.8],[18.1,-16.2],[25.9,-18],[18.6,-17.4]
];

// ---- chart ----
const FONT = 'DejaVu Sans';
const MONO = 'DejaVu Sans Mono';
const INK = '#383838';
const chart = echarts.init(document.getElementById('chart'), null, {renderer: 'canvas'});

const fmtMinus = v => (v < 0 ? '\u2212' + Math.abs(v) : String(v));

const xCommon = {
  type: 'value', min: azimuthTicks[0], max: azimuthTicks[azimuthTicks.length - 1], interval: 45,
  axisLine: {show: true, lineStyle: {color: INK, width: 1.5}},
  axisTick: {show: true, inside: true, length: 10, lineStyle: {color: INK, width: 1.5}},
  splitLine: {show: false}
};
const yMinor = {
  type: 'value', min: -25, max: -10, interval: 0.5,
  axisLine: {show: true, lineStyle: {color: INK, width: 1.5}},
  axisTick: {show: true, inside: true, length: 9, lineStyle: {color: INK, width: 1.5}},
  splitLine: {show: false}
};
const yMajor = {
  type: 'value', inverse: true, min: 10, max: 25, interval: 2,
  axisLine: {show: false},
  axisTick: {show: true, inside: true, length: 17, lineStyle: {color: INK, width: 1.5}},
  axisLabel: {show: false},
  splitLine: {show: false}
};

chart.setOption({
  animation: false,
  backgroundColor: '#ffffff',
  title: {
    text: titleText, left: 514, top: 6, textAlign: 'center',
    textStyle: {fontFamily: MONO, fontSize: 27, fontWeight: 'normal', color: INK}
  },
  legend: {
    orient: 'vertical', left: 155, top: 441, itemGap: 15,
    itemWidth: 12, itemHeight: 2, icon: 'rect',
    textStyle: {fontFamily: FONT, fontSize: 17},
    data: [
      {name: 'this study', textStyle: {color: '#3333ff'}},
      {name: 'CMOD 5 (Hersbach et al., 2007)', textStyle: {color: '#ff2020'}}
    ]
  },
  grid: {left: 113, right: 47, top: 47, bottom: 79, containLabel: false},
  xAxis: [
    Object.assign({}, xCommon, {
      position: 'bottom',
      name: xName, nameLocation: 'middle', nameGap: 46,
      nameTextStyle: {fontFamily: MONO, fontSize: 21, color: INK},
      axisLabel: {show: true, margin: 17, fontFamily: FONT, fontSize: 21, color: INK}
    }),
    Object.assign({}, xCommon, {position: 'top', axisLabel: {show: false}})
  ],
  yAxis: [
    Object.assign({}, yMinor, {
      position: 'left',
      name: yName, nameLocation: 'middle', nameGap: 72, nameRotate: 90,
      nameTextStyle: {fontFamily: MONO, fontSize: 21, color: INK},
      axisLabel: {
        show: true, margin: 8, fontFamily: FONT, fontSize: 21, color: INK,
        formatter: v => (nrcsTicks.indexOf(v) >= 0 ? fmtMinus(v) : '')
      }
    }),
    Object.assign({}, yMajor, {position: 'left'}),
    Object.assign({}, yMinor, {position: 'right', axisLabel: {show: false}}),
    Object.assign({}, yMajor, {position: 'right'})
  ],
  series: [
    {
      name: 'observations', type: 'scatter', xAxisIndex: 0, yAxisIndex: 0,
      data: obsPoints.concat(obsPoints2, obsCore, obsOutliers),
      symbol: 'rect', symbolSize: 2.4,
      itemStyle: {color: '#000000'},
      silent: true, large: false, z: 2
    },
    {
      name: 'this study', type: 'line', xAxisIndex: 0, yAxisIndex: 0,
      data: curveAz.map((a, i) => [a, thisStudy[i]]),
      smooth: 0.35, showSymbol: false, symbol: 'none',
      lineStyle: {color: '#0000ff', width: 3}, itemStyle: {color: '#0000ff'}, z: 3
    },
    {
      name: 'CMOD 5 (Hersbach et al., 2007)', type: 'line', xAxisIndex: 0, yAxisIndex: 0,
      data: curveAz.map((a, i) => [a, cmod5[i]]),
      smooth: 0.35, showSymbol: false, symbol: 'none',
      lineStyle: {color: '#ff0000', width: 3}, itemStyle: {color: '#ff0000'}, z: 4
    }
  ]
});
</script>
</body>
</html>
